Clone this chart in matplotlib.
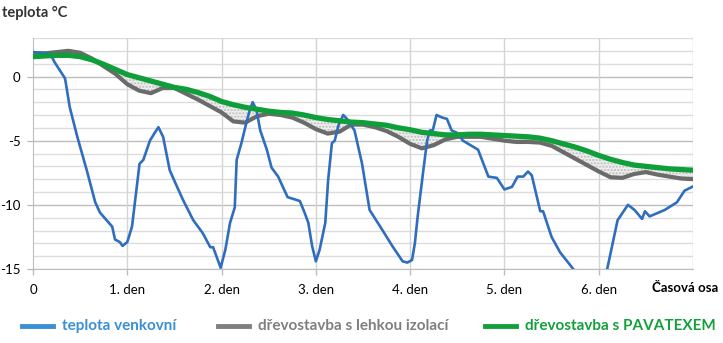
import numpy as np
import matplotlib.pyplot as plt
from matplotlib.lines import Line2D

plt.rcParams['font.family'] = ['Lato', 'DejaVu Sans']
plt.rcParams['axes.unicode_minus'] = False

# outdoor temperature, read as (day, degC)
venku_den = [0.0, 0.18, 0.23, 0.34, 0.39, 0.47, 0.57, 0.66, 0.71, 0.84, 0.87, 0.92, 0.95,
             1.0, 1.05, 1.13, 1.17, 1.24, 1.29, 1.33, 1.38, 1.45, 1.51, 1.59, 1.70, 1.80,
             1.88, 1.91, 1.99, 2.04, 2.09, 2.14, 2.16, 2.21, 2.27, 2.30, 2.33, 2.37, 2.41,
             2.48, 2.53, 2.60, 2.70, 2.83, 2.88, 2.92, 2.96, 3.0, 3.04, 3.10, 3.13, 3.17,
             3.20, 3.24, 3.29, 3.33, 3.41, 3.49, 3.57, 3.70, 3.81, 3.92, 3.97, 4.02, 4.05,
             4.08, 4.14, 4.18, 4.21, 4.24, 4.28, 4.34, 4.39, 4.44, 4.50, 4.56, 4.72, 4.83,
             4.92, 5.0, 5.08, 5.14, 5.20, 5.25, 5.29, 5.38, 5.41, 5.50, 5.59, 5.73, 5.85,
             5.95, 6.02, 6.09, 6.20, 6.31, 6.38, 6.46, 6.49, 6.54, 6.70, 6.83, 6.91, 6.99]
venku_t = [1.9, 1.8, 1.1, -0.15, -2.4, -4.7, -7.3, -9.8, -10.6, -11.7, -12.7, -12.9, -13.2,
           -12.9, -11.7, -6.8, -6.5, -5.0, -4.4, -3.95, -4.7, -7.3, -8.3, -9.6, -11.2, -12.2,
           -13.3, -13.3, -14.9, -13.5, -11.4, -10.2, -6.5, -5.2, -3.4, -2.6, -2.0, -2.6, -4.2,
           -5.7, -7.1, -7.8, -9.4, -9.7, -10.6, -11.4, -13.2, -14.4, -13.5, -11.4, -8.1, -5.2,
           -5.0, -3.8, -3.0, -3.3, -4.2, -6.8, -10.4, -11.9, -13.2, -14.4, -14.5, -14.3, -13.0,
           -10.9, -7.3, -5.0, -4.2, -4.2, -3.0, -3.2, -3.3, -4.2, -4.4, -5.0, -5.7, -7.8,
           -7.9, -8.8, -8.6, -7.8, -7.8, -7.4, -7.7, -10.5, -10.5, -12.5, -13.7, -15.0, -16.3,
           -17.0, -16.2, -15.0, -11.2, -10.0, -10.4, -11.1, -10.5, -10.9, -10.4, -9.8, -8.9, -8.6]

# both houses sampled every 3 hours
dum_den = [i * 0.125 for i in range(57)]
lehka = [1.8, 1.8, 1.9, 2.0, 1.85, 1.4, 0.8, 0.2, -0.6, -1.1, -1.3, -0.9, -0.9, -1.35, -1.8,
         -2.3, -2.8, -3.5, -3.6, -3.1, -2.9, -3.0, -3.2, -3.6, -4.1, -4.45, -4.3, -3.75, -3.75,
         -3.95, -4.25, -4.7, -5.25, -5.6, -5.35, -4.9, -4.7, -4.7, -4.7, -4.85, -5.0, -5.1,
         -5.1, -5.15, -5.4, -5.9, -6.4, -6.9, -7.4, -7.85, -7.9, -7.6, -7.45, -7.65, -7.8,
         -7.95, -8.0]
pavatex = [1.55, 1.6, 1.65, 1.65, 1.55, 1.3, 0.95, 0.55, 0.15, -0.1, -0.35, -0.6, -0.85, -1.0,
           -1.25, -1.55, -1.95, -2.2, -2.4, -2.55, -2.7, -2.8, -2.85, -3.0, -3.2, -3.35, -3.45,
           -3.55, -3.6, -3.7, -3.8, -4.0, -4.15, -4.35, -4.45, -4.55, -4.55, -4.5, -4.5, -4.55,
           -4.6, -4.65, -4.7, -4.8, -5.0, -5.25, -5.5, -5.8, -6.15, -6.45, -6.7, -6.9, -7.0,
           -7.1, -7.2, -7.25, -7.3]

dny = [0, 1, 2, 3, 4, 5, 6]
dny_popisky = ['0', '1. den', '2. den', '3. den', '4. den', '5. den', '6. den']
nazvy = ['teplota venkovní', 'dřevostavba s lehkou izolací', 'dřevostavba s PAVATEXEM']

modra = '#2F6DBE'
seda = '#6B6B6B'
zelena = '#0E9E3A'
legenda_barvy = ['#3A8FD6', '#7F7F7F', '#13A03A']

W, H = 723, 343
fig = plt.figure(figsize=(W / 100, H / 100), dpi=100)
ax = fig.add_axes([33 / W, 1 - 269 / H, 660 / W, 231 / H])

ax.set_xlim(0, 7)
ax.set_ylim(-15, 3)

# grid: 1 degC light, 5 degC a bit darker
for t in range(-15, 4):
    ax.axhline(t, color='#BDBDBD' if t % 5 == 0 else '#DCDCDC', lw=1.0, zorder=0)
for d in range(1, 8):
    ax.axvline(d, color='#D4D4D4', lw=1.0, zorder=0)

lehka_a = np.array(lehka)
pavatex_a = np.array(pavatex)
ax.fill_between(dum_den, lehka_a, pavatex_a, where=lehka_a < pavatex_a, interpolate=True,
                facecolor='#EDEDED', edgecolor='#BDBDBD', hatch='.....', lw=0, zorder=1)

ax.plot(venku_den, venku_t, color=modra, lw=1.9, zorder=3)
ax.plot(dum_den, lehka, color=seda, lw=3.0, zorder=2)
ax.plot(dum_den, pavatex, color=zelena, lw=3.8, zorder=4)

ax.set_xticks(dny)
ax.set_xticklabels(dny_popisky)
ax.set_yticks([0, -5, -10, -15])
ax.tick_params(axis='both', colors='#BDBDBD', labelcolor='black', labelsize=9.5, length=4, width=1)
ax.tick_params(axis='x', pad=7)
ax.tick_params(axis='y', pad=5)
for s in ['top', 'right']:
    ax.spines[s].set_visible(False)
ax.spines['left'].set_color('#BDBDBD')
ax.spines['bottom'].set_color('#BDBDBD')

fig.text(718 / W, 1 - 288 / H, 'Časová osa', ha='right', va='center',
         fontsize=9.5, fontweight='bold', color='black')
fig.text(2 / W, 1 - 13 / H, 'teplota °C', ha='left', va='center', fontsize=10.5,
         fontweight='bold', color='#333333')

# legend drawn by hand so the three entries sit where they should
leg_x = [22, 218, 485]
leg_y = 1 - 326 / H
for x0, nazev, barva in zip(leg_x, nazvy, legenda_barvy):
    fig.add_artist(Line2D([x0 / W, (x0 + 31) / W], [leg_y, leg_y], color=barva, lw=3.5,
                          transform=fig.transFigure))
    fig.text((x0 + 40) / W, leg_y, nazev, ha='left', va='center', fontsize=11,
             fontweight='bold', color=barva)

fig.savefig('out.png', dpi=100)
